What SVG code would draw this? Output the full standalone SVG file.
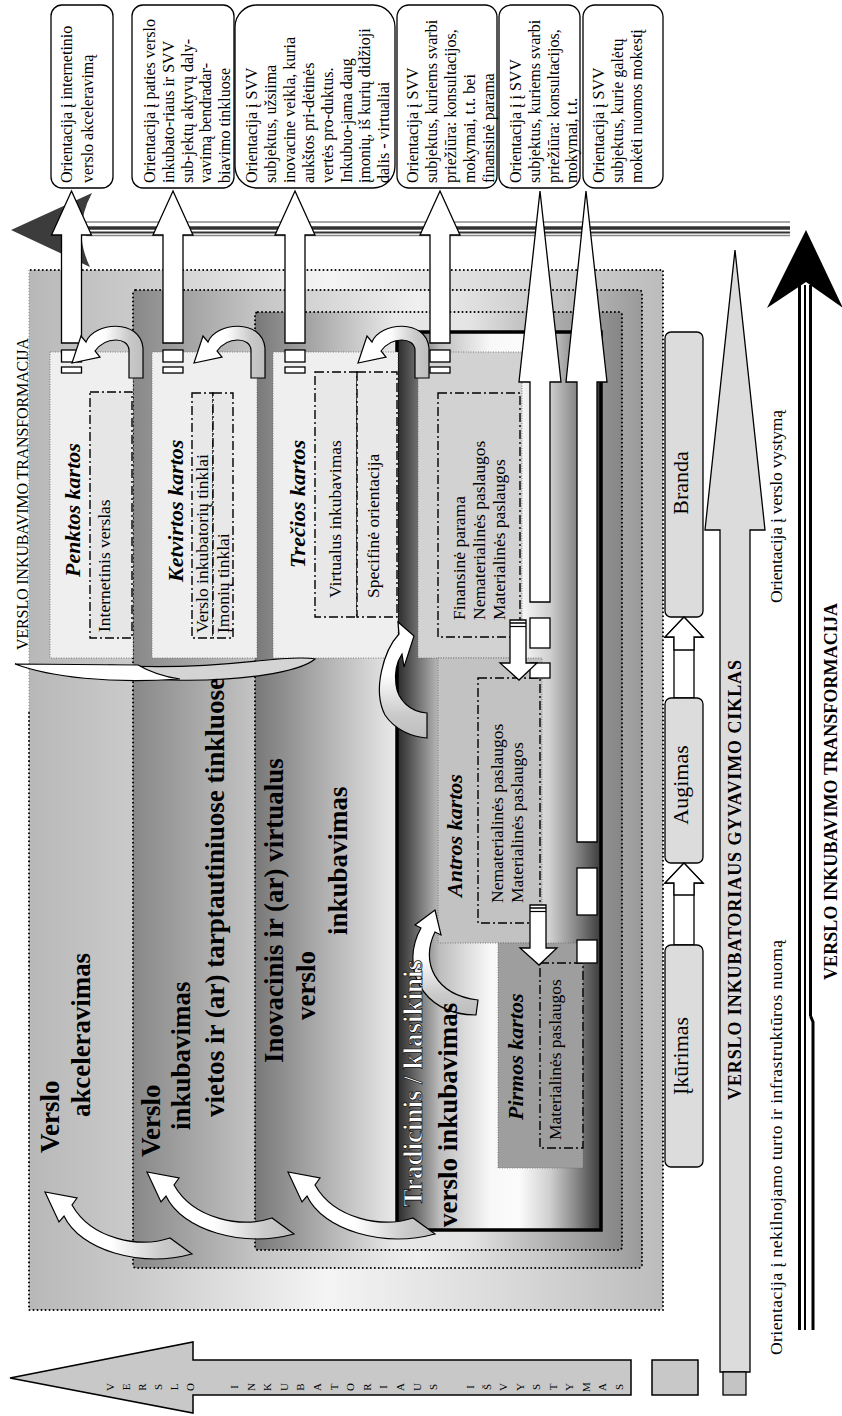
<svg xmlns="http://www.w3.org/2000/svg" width="842" height="1416" viewBox="0 0 842 1416">
<defs>
<style>
text{font-family:"Liberation Serif","Times New Roman",serif;fill:#000}
.s16{font-size:16px}
.s17{font-size:17.5px}
.s11{font-size:11px}
.b27{font-size:27px;font-weight:bold}
.bi22{font-size:22px;font-weight:bold;font-style:italic}
.b18{font-size:18px;font-weight:bold}
.s22{font-size:22px}
.wt{fill:#fff;stroke:#000;stroke-width:0.7px}
.dot{fill:none;stroke:#000;stroke-width:2;stroke-dasharray:0.01 4;stroke-linecap:round}
.gdot{fill:none;stroke:#888;stroke-width:1;stroke-dasharray:1 2}
.fdot{stroke:#666;stroke-width:0.8;stroke-dasharray:1 1.5}
.dd{fill:none;stroke:#000;stroke-width:1.4;stroke-dasharray:9 3 2 3}
.stg{fill:#dcdcdc;stroke:#000;stroke-width:1.3}
.crv{stroke:#000;stroke-width:1.2}
.tb{fill:#fff;stroke:#000;stroke-width:1.3}
</style>
<linearGradient id="gOuter" gradientUnits="userSpaceOnUse" x1="29" y1="0" x2="663" y2="0">
<stop offset="0" stop-color="#b8b8b8"/><stop offset="0.164" stop-color="#cacaca"/><stop offset="0.47" stop-color="#f4f4f4"/><stop offset="0.75" stop-color="#dadada"/><stop offset="1" stop-color="#bcbcbc"/>
</linearGradient>
<linearGradient id="gSecond" gradientUnits="userSpaceOnUse" x1="133" y1="0" x2="642" y2="0">
<stop offset="0" stop-color="#888"/><stop offset="0.24" stop-color="#c4c4c4"/><stop offset="0.56" stop-color="#f0f0f0"/><stop offset="0.84" stop-color="#c4c4c4"/><stop offset="1" stop-color="#9a9a9a"/>
</linearGradient>
<linearGradient id="gThird" gradientUnits="userSpaceOnUse" x1="255" y1="0" x2="622" y2="0">
<stop offset="0" stop-color="#787878"/><stop offset="0.38" stop-color="#e8e8e8"/><stop offset="0.586" stop-color="#e4e4e4"/><stop offset="0.83" stop-color="#aaa"/><stop offset="1" stop-color="#868686"/>
</linearGradient>
<linearGradient id="gTrad" gradientUnits="userSpaceOnUse" x1="397" y1="0" x2="601" y2="0">
<stop offset="0" stop-color="#2a2a2a"/><stop offset="0.064" stop-color="#555"/><stop offset="0.21" stop-color="#bdbdbd"/><stop offset="0.456" stop-color="#f8f8f8"/><stop offset="0.6" stop-color="#fbfbfb"/><stop offset="0.75" stop-color="#cfcfcf"/><stop offset="0.87" stop-color="#8c8c8c"/><stop offset="1" stop-color="#3a3a3a"/>
</linearGradient>
<linearGradient id="gCurveH" x1="0" y1="0" x2="1" y2="0">
<stop offset="0" stop-color="#fff"/><stop offset="0.45" stop-color="#fff"/><stop offset="0.8" stop-color="#cacaca"/><stop offset="1" stop-color="#bdbdbd"/>
</linearGradient>
<linearGradient id="gCurveV" x1="0" y1="0" x2="0" y2="1">
<stop offset="0" stop-color="#fff"/><stop offset="0.45" stop-color="#fff"/><stop offset="0.8" stop-color="#cacaca"/><stop offset="1" stop-color="#bdbdbd"/>
</linearGradient>
<path id="tca" class="crv" fill="url(#gCurveH)" d="M72,363 L81,336 L86,342 C94,322 140,318 143,348 L143,378 L129,378 L129,350 C128,337 106,336 95,351 L100,357 Z"/>
<path id="bca" class="crv" fill="url(#gCurveH)" d="M45,1192 L59,1222 L64,1216 C80,1250 140,1268 192,1254 L170,1238 C140,1248 92,1240 72,1205 L77,1198 Z"/>
</defs>
<rect width="842" height="1416" fill="#fff"/>

<!-- nested incubation boxes -->
<g id="box-akceleravimas">
<rect x="29" y="270" width="634" height="1040" rx="3" fill="url(#gOuter)"/>
<path class="dot" d="M29,713 V1310 H663 V270 H29"/>
<path class="gdot" d="M29,270 V713"/>
</g>
<g id="box-tarptautinis">
<rect x="133" y="290" width="509" height="978" rx="3" fill="url(#gSecond)"/>
<rect class="dot" x="133" y="290" width="509" height="978" rx="3"/>
</g>
<g id="box-inovacinis">
<rect x="255" y="312" width="367" height="938" rx="3" fill="url(#gThird)"/>
<rect class="dot" x="255" y="312" width="367" height="938" rx="3"/>
</g>
<g id="box-tradicinis">
<rect x="397" y="332" width="204" height="898" fill="url(#gTrad)" stroke="#000" stroke-width="3.5"/>
</g>

<!-- generation boxes -->
<g id="gen-penktos">
<rect class="fdot" x="50" y="352" width="83" height="306" fill="#efefef"/>
<rect class="dd" x="90" y="392" width="42" height="246" style="fill:#e6e6e6"/>
<text class="bi22" transform="translate(80,577) rotate(-90)">Penktos  kartos</text>
<text class="s17" transform="translate(110,632) rotate(-90)">Internetinis verslas</text>
</g>
<g id="gen-ketvirtos">
<rect class="fdot" x="152" y="352" width="105" height="306" fill="#efefef"/>
<rect class="dd" x="192" y="393" width="21" height="245" style="fill:#e8e8e8"/>
<rect class="dd" x="213" y="393" width="20" height="245" style="fill:#e8e8e8"/>
<text class="bi22" transform="translate(183,582) rotate(-90)">Ketvirtos  kartos</text>
<text class="s17" transform="translate(208,633) rotate(-90)">Verslo inkubatorių tinklai</text>
<text class="s17" transform="translate(229,633) rotate(-90)">Įmonių tinklai</text>
</g>
<g id="gen-trecios">
<rect class="fdot" x="273" y="352" width="125" height="306" fill="#efefef"/>
<rect class="dd" x="315" y="372" width="42" height="245" style="fill:#e8e8e8"/>
<rect class="dd" x="357" y="372" width="40" height="245" style="fill:#e8e8e8"/>
<text class="bi22" transform="translate(305,568) rotate(-90)">Trečios kartos</text>
<text class="s17" transform="translate(341,598) rotate(-90)">Virtualus inkubavimas</text>
<text class="s17" transform="translate(379,598) rotate(-90)">Specifinė orientacija</text>
</g>
<g id="gen-finansine">
<rect class="fdot" x="418" y="352" width="104" height="306" fill="#d2d2d2"/>
<rect class="dd" x="438" y="393" width="82" height="244"/>
<text class="s17" transform="translate(465,620) rotate(-90)">Finansinė parama</text>
<text class="s17" transform="translate(485,620) rotate(-90)">Nematerialinės paslaugos</text>
<text class="s17" transform="translate(505,620) rotate(-90)">Materialinės paslaugos</text>
</g>
<g id="gen-antros">
<rect class="fdot" x="438" y="658" width="104" height="285" fill="#c2c2c2"/>
<rect class="dd" x="478" y="678" width="62" height="245"/>
<text class="bi22" transform="translate(462,897) rotate(-90)">Antros kartos</text>
<text class="s17" transform="translate(503,903) rotate(-90)">Nematerialinės paslaugos</text>
<text class="s17" transform="translate(523,903) rotate(-90)">Materialinės paslaugos</text>
</g>
<g id="gen-pirmos">
<rect class="fdot" x="498" y="943" width="85" height="225" fill="#9e9e9e"/>
<rect class="dd" x="540" y="963" width="43" height="185"/>
<text class="bi22" transform="translate(523,1120) rotate(-90)">Pirmos kartos</text>
<text class="s17" transform="translate(561,1140) rotate(-90)">Materialinės paslaugos</text>
</g>

<!-- connectors -->
<g id="connectors">
<path d="M11,230 L92,193 Q72,230 90,267 Z" fill="#3c3c3c"/>
<line x1="86" y1="222" x2="790" y2="222" stroke="#888" stroke-width="1.5"/>
<line x1="86" y1="228" x2="790" y2="228" stroke="#333" stroke-width="3.5"/>
<line x1="86" y1="232.5" x2="790" y2="232.5" stroke="#333" stroke-width="1.8"/>
<line x1="86" y1="235.5" x2="790" y2="235.5" stroke="#888" stroke-width="1.5"/>
<path d="M806,230 L843,308 L806,282 L767,308 Z" fill="#000"/>
<line x1="799.5" y1="285" x2="799.5" y2="1330" stroke="#000" stroke-width="3"/>
<line x1="805" y1="285" x2="805" y2="1330" stroke="#000" stroke-width="2"/>
<line x1="810.5" y1="285" x2="810.5" y2="1016" stroke="#000" stroke-width="3"/>
<path d="M810.5,1016 L813,1022 V1330" fill="none" stroke="#000" stroke-width="3"/>
<path d="M735,250 L765,530 L750,530 L750,1372 L720,1372 L720,530 L705,530 Z" class="stg"/>
<rect x="723" y="1372" width="23" height="23" fill="#c4c4c4" stroke="#000" stroke-width="1.3"/>
<path d="M10,1378 L193,1342 L193,1360 L631,1360 L631,1395 L193,1395 L193,1413 Z" fill="#c8c8c8" stroke="#000" stroke-width="1.5"/>
<rect x="652" y="1360" width="46" height="35" fill="#c8c8c8" stroke="#000" stroke-width="1.5"/>
<path class="tb" d="M71.5,191 L91.5,235 L81.5,235 L81.5,343 L61.5,343 L61.5,235 L51.5,235 Z"/>
<path class="tb" d="M173,191 L193,235 L183,235 L183,343 L163,343 L163,235 L153,235 Z"/>
<path class="tb" d="M295,191 L315,235 L305,235 L305,343 L285,343 L285,235 L275,235 Z"/>
<path class="tb" d="M440,191 L460,235 L450,235 L450,343 L430,343 L430,235 L420,235 Z"/>
<rect class="tb" x="61.5" y="350" width="20" height="12"/><rect class="tb" x="61.5" y="367" width="20" height="6"/>
<rect class="tb" x="163" y="350" width="20" height="12"/><rect class="tb" x="163" y="367" width="20" height="6"/>
<rect class="tb" x="285" y="350" width="20" height="12"/><rect class="tb" x="285" y="367" width="20" height="6"/>
<rect class="tb" x="430" y="350" width="20" height="12"/><rect class="tb" x="430" y="367" width="20" height="6"/>
<path class="tb" d="M540,191 L561,382 L550,382 L550,602 L530,602 L530,382 L519,382 Z"/>
<rect class="tb" x="530" y="618" width="20" height="30"/><rect class="tb" x="530" y="663" width="20" height="15"/>
<path class="tb" d="M586,191 L607,382 L597,382 L597,842 L577,842 L577,382 L566,382 Z"/>
<rect class="tb" x="577" y="868" width="20" height="47"/><rect class="tb" x="577" y="940" width="20" height="23"/>
<path class="tb" d="M510,620 L526,620 L526,663 L537,663 L519,680 L500,663 L510,663 Z"/>
<line x1="510" y1="623" x2="526" y2="623" stroke="#000" stroke-width="1.5"/><line x1="510" y1="626.5" x2="526" y2="626.5" stroke="#000" stroke-width="1.2"/>
<path class="tb" d="M530,905 L546,905 L546,948 L557,948 L539,965 L520,948 L530,948 Z"/>
<line x1="530" y1="908" x2="546" y2="908" stroke="#000" stroke-width="1.5"/><line x1="530" y1="911.5" x2="546" y2="911.5" stroke="#000" stroke-width="1.2"/>
<path class="tb" d="M684,617 L703,637 L694,637 L694,698 L674,698 L674,637 L665,637 Z"/>
<path class="tb" d="M684,863 L703,883 L694,883 L694,945 L674,945 L674,883 L665,883 Z"/>
</g>

<!-- stage boxes -->
<g id="stage-branda"><rect class="stg" x="665" y="332" width="38" height="285" rx="6"/><text class="s22" text-anchor="middle" transform="translate(688,483) rotate(-90)">Branda</text></g>
<g id="stage-augimas"><rect class="stg" x="665" y="698" width="38" height="165" rx="6"/><text class="s22" text-anchor="middle" transform="translate(688,785) rotate(-90)">Augimas</text></g>
<g id="stage-ikurimas"><rect class="stg" x="665" y="945" width="38" height="222" rx="6"/><text class="s22" text-anchor="middle" transform="translate(688,1056) rotate(-90)">Įkūrimas</text></g>
<path class="tb" d="M684,617 L703,637 L694,637 L694,650 L674,650 L674,637 L665,637 Z"/>
<path class="tb" d="M684,863 L703,883 L694,883 L694,895 L674,895 L674,883 L665,883 Z"/>

<!-- curved arrows -->
<g id="curved-arrows">
<use href="#tca"/>
<use href="#tca" transform="translate(122,0)"/>
<use href="#tca" transform="translate(286,0)"/>
<use href="#bca"/>
<use href="#bca" transform="translate(102,-20)"/>
<use href="#bca" transform="translate(243,-20)"/>
<path class="crv" fill="url(#gCurveV)" d="M414,636 L398,622 L399,634 C384,650 372,690 385,715 C395,730 412,737 427,738 L427,713 C410,712 398,700 396,685 C394,670 398,660 402,654 L404,667 Z"/>
<path class="crv" fill="url(#gCurveV)" d="M435,910 L441,935 L435,932 C420,962 435,995 478,1000 L476,1015 C420,1015 400,965 421,928 L415,925 Z"/>
<path class="crv" fill="#d4d4d4" d="M110,665 C150,668 200,667 257,661 C285,658 305,657 315,659 C300,672 240,682 170,680 C140,679 120,672 110,665 Z"/>
<path class="crv" fill="#fff" d="M15,664 L138,665 C150,672 165,677 180,679 C110,684 50,677 15,664 Z"/>
</g>

<!-- big box titles -->
<g id="titles">
<text class="b27" transform="translate(59,1153) rotate(-90)">Verslo</text>
<text class="b27" transform="translate(90,1117) rotate(-90)" textLength="164" lengthAdjust="spacingAndGlyphs">akceleravimas</text>
<text class="b27" transform="translate(160,1157) rotate(-90)">Verslo</text>
<text class="b27" transform="translate(190,1130) rotate(-90)">inkubavimas</text>
<text class="b27" transform="translate(224,1117) rotate(-90)" textLength="439" lengthAdjust="spacingAndGlyphs">vietos ir (ar) tarptautiniuose tinkluose</text>
<text class="b27" transform="translate(283,1063) rotate(-90)">Inovacinis ir (ar) virtualus</text>
<text class="b27" transform="translate(315,1020) rotate(-90)">verslo</text>
<text class="b27" transform="translate(347,935) rotate(-90)">inkubavimas</text>
<text class="b27 wt" transform="translate(422,1207) rotate(-90)">Tradicinis / klasikinis</text>
<text class="b27" transform="translate(457,1227) rotate(-90)">verslo inkubavimas</text>
<text class="s16" transform="translate(28,650) rotate(-90)" textLength="312" lengthAdjust="spacing">VERSLO INKUBAVIMO TRANSFORMACIJA</text>
</g>

<!-- orientation boxes -->
<g id="orient-1"><rect class="tb" x="51" y="5" width="62" height="183" rx="11"/>
<text class="s16" transform="translate(72,183) rotate(-90)"><tspan x="0" y="0">Orientacija į internetinio</tspan><tspan x="0" y="21">verslo akceleravimą</tspan></text></g>
<g id="orient-2"><rect class="tb" x="132" y="5" width="102" height="183" rx="11"/>
<text class="s16" transform="translate(155,183) rotate(-90)"><tspan x="0" y="0">Orientacija į paties verslo</tspan><tspan x="0" y="18.8">inkubato-riaus ir SVV</tspan><tspan x="0" y="37.6">sub-jektų aktyvų daly-</tspan><tspan x="0" y="56.4">vavimą bendradar-</tspan><tspan x="0" y="75.2">biavimo tinkluose</tspan></text></g>
<g id="orient-3"><rect class="tb" x="235" y="5" width="160" height="183" rx="22"/>
<text class="s16" transform="translate(257,183) rotate(-90)"><tspan x="0" y="0">Orientacija į SVV</tspan><tspan x="0" y="18.9">subjektus, užsiima</tspan><tspan x="0" y="37.8">inovacine veikla, kuria</tspan><tspan x="0" y="56.7">aukštos pri-dėtinės</tspan><tspan x="0" y="75.6">vertės pro-duktus.</tspan><tspan x="0" y="94.5">Inkubuo-jama daug</tspan><tspan x="0" y="113.4">įmonių, iš kurių didžioji</tspan><tspan x="0" y="132.3">dalis - virtualiai</tspan></text></g>
<g id="orient-4"><rect class="tb" x="397" y="5" width="100" height="183" rx="12"/>
<text class="s16" transform="translate(418,183) rotate(-90)"><tspan x="0" y="0">Orientacija į SVV</tspan><tspan x="0" y="18.9">subjektus, kuriems svarbi</tspan><tspan x="0" y="37.8">priežiūra: konsultacijos,</tspan><tspan x="0" y="56.7">mokymai, t.t. bei</tspan><tspan x="0" y="75.6">finansinė parama</tspan></text></g>
<g id="orient-5"><rect class="tb" x="499" y="5" width="81" height="183" rx="12"/>
<text class="s16" transform="translate(521,183) rotate(-90)"><tspan x="0" y="0">Orientacija į į SVV</tspan><tspan x="0" y="18.8">subjektus, kuriems svarbi</tspan><tspan x="0" y="37.6">priežiūra: konsultacijos,</tspan><tspan x="0" y="56.4">mokymai, t.t.</tspan></text></g>
<g id="orient-6"><rect class="tb" x="583" y="5" width="80" height="183" rx="12"/>
<text class="s16" transform="translate(604,183) rotate(-90)"><tspan x="0" y="0">Orientacija į SVV</tspan><tspan x="0" y="18.8">subjektus, kurie galėtų</tspan><tspan x="0" y="37.6">mokėti nuomos mokestį</tspan></text></g>

<!-- side labels -->
<g id="labels">
<text class="b18" transform="translate(741,1100) rotate(-90)" textLength="440" lengthAdjust="spacing">VERSLO  INKUBATORIAUS  GYVAVIMO  CIKLAS</text>
<text class="s17" transform="translate(782,603) rotate(-90)" textLength="193" lengthAdjust="spacing">Orientacija į verslo vystymą</text>
<text class="s17" transform="translate(782,1355) rotate(-90)" textLength="415" lengthAdjust="spacing">Orientacija į nekilnojamo turto ir infrastruktūros nuomą</text>
<text class="b18" transform="translate(837,980) rotate(-90)" textLength="377" lengthAdjust="spacing">VERSLO INKUBAVIMO TRANSFORMACIJA</text>
</g>

<!-- letters in big left arrow -->
<g id="isvystymas">
<text class="s11" text-anchor="middle" transform="translate(114,1387) rotate(-90)">V</text>
<text class="s11" text-anchor="middle" transform="translate(130,1387) rotate(-90)">E</text>
<text class="s11" text-anchor="middle" transform="translate(146,1387) rotate(-90)">R</text>
<text class="s11" text-anchor="middle" transform="translate(162,1387) rotate(-90)">S</text>
<text class="s11" text-anchor="middle" transform="translate(178,1387) rotate(-90)">L</text>
<text class="s11" text-anchor="middle" transform="translate(194,1387) rotate(-90)">O</text>
<text class="s11" text-anchor="middle" transform="translate(238,1387) rotate(-90)">I</text>
<text class="s11" text-anchor="middle" transform="translate(254.6,1387) rotate(-90)">N</text>
<text class="s11" text-anchor="middle" transform="translate(271.2,1387) rotate(-90)">K</text>
<text class="s11" text-anchor="middle" transform="translate(287.8,1387) rotate(-90)">U</text>
<text class="s11" text-anchor="middle" transform="translate(304.4,1387) rotate(-90)">B</text>
<text class="s11" text-anchor="middle" transform="translate(321,1387) rotate(-90)">A</text>
<text class="s11" text-anchor="middle" transform="translate(337.6,1387) rotate(-90)">T</text>
<text class="s11" text-anchor="middle" transform="translate(354.2,1387) rotate(-90)">O</text>
<text class="s11" text-anchor="middle" transform="translate(370.8,1387) rotate(-90)">R</text>
<text class="s11" text-anchor="middle" transform="translate(387.4,1387) rotate(-90)">I</text>
<text class="s11" text-anchor="middle" transform="translate(404,1387) rotate(-90)">A</text>
<text class="s11" text-anchor="middle" transform="translate(420.6,1387) rotate(-90)">U</text>
<text class="s11" text-anchor="middle" transform="translate(437.2,1387) rotate(-90)">S</text>
<text class="s11" text-anchor="middle" transform="translate(474,1387) rotate(-90)">I</text>
<text class="s11" text-anchor="middle" transform="translate(490.5,1387) rotate(-90)">Š</text>
<text class="s11" text-anchor="middle" transform="translate(507,1387) rotate(-90)">V</text>
<text class="s11" text-anchor="middle" transform="translate(523.5,1387) rotate(-90)">Y</text>
<text class="s11" text-anchor="middle" transform="translate(540,1387) rotate(-90)">S</text>
<text class="s11" text-anchor="middle" transform="translate(556.5,1387) rotate(-90)">T</text>
<text class="s11" text-anchor="middle" transform="translate(573,1387) rotate(-90)">Y</text>
<text class="s11" text-anchor="middle" transform="translate(589.5,1387) rotate(-90)">M</text>
<text class="s11" text-anchor="middle" transform="translate(606,1387) rotate(-90)">A</text>
<text class="s11" text-anchor="middle" transform="translate(622.5,1387) rotate(-90)">S</text>
</g>
</svg>
